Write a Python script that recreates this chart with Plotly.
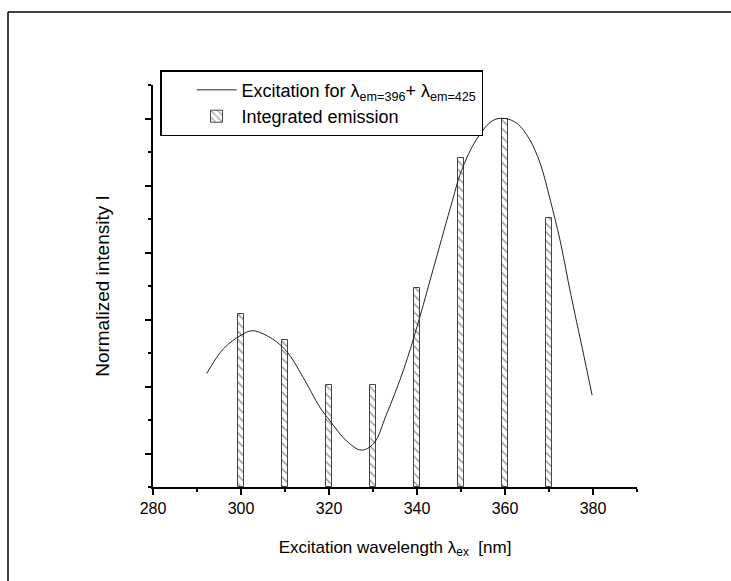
import plotly.graph_objects as go

# Integrated emission at each excitation wavelength (normalized)
bar_wavelengths = [300, 310, 320, 330, 340, 350, 360, 370]
bar_intensity = [0.469, 0.400, 0.276, 0.276, 0.541, 0.894, 1.000, 0.730]

# Excitation spectrum for lambda_em = 396 + 425 nm (normalized)
curve_wavelengths = [292.2, 296.0, 300.0, 302.5, 306.0, 310.2, 314.0, 317.9, 320.2,
                     324.0, 327.4, 330.2, 333.0, 337.0, 340.0, 344.0, 348.0, 350.0,
                     353.6, 357.3, 360.0, 362.8, 365.5, 368.0, 370.3, 372.5, 375.0,
                     377.5, 379.8]
curve_intensity = [0.308, 0.375, 0.412, 0.424, 0.410, 0.371, 0.300, 0.217, 0.180,
                   0.125, 0.100, 0.119, 0.195, 0.320, 0.435, 0.605, 0.775, 0.855,
                   0.945, 0.995, 1.000, 0.986, 0.945, 0.878, 0.778, 0.670, 0.520,
                   0.380, 0.249]

x_tick_values = [280, 300, 320, 340, 360, 380]
x_tick_labels = ["280", "300", "320", "340", "360", "380"]

FONT = "Liberation Sans, Arial, Helvetica, sans-serif"

fig = go.Figure()

fig.add_trace(go.Scatter(
    x=curve_wavelengths, y=curve_intensity,
    mode="lines",
    line=dict(color="#222222", width=1, shape="spline", smoothing=1.0),
    name="Excitation for \u03bb<sub>em=396</sub>+ \u03bb<sub>em=425</sub>",
))

fig.add_trace(go.Bar(
    x=bar_wavelengths, y=bar_intensity,
    width=1.25,
    marker=dict(
        color="white",
        line=dict(color="#444444", width=1),
        pattern=dict(shape="\\", fgcolor="#333333", bgcolor="white",
                     size=6, solidity=0.25),
    ),
    name="Integrated emission",
))

fig.update_layout(
    width=731, height=581,
    margin=dict(l=153, r=94, t=85, b=94),
    paper_bgcolor="white", plot_bgcolor="white",
    font=dict(family=FONT, color="black", size=16),
    showlegend=True,
    legend=dict(
        x=0.0145, y=1.037, xanchor="left", yanchor="top",
        bordercolor="black", borderwidth=1.5, bgcolor="white",
        font=dict(family=FONT, size=18, color="black"),
        traceorder="normal", tracegroupgap=0,
        itemwidth=40, indentation=30,
    ),
    bargap=0,
    xaxis=dict(
        range=[280, 390],
        tickvals=x_tick_values, ticktext=x_tick_labels,
        ticks="outside", ticklen=6, tickwidth=1.5, tickcolor="black",
        minor=dict(dtick=10, tick0=280, ticks="outside", ticklen=3,
                   tickwidth=1.5, tickcolor="black"),
        showline=True, linecolor="black", linewidth=1.5,
        showgrid=False, zeroline=False,
        tickfont=dict(size=16, family=FONT),
        title=dict(text="Excitation wavelength \u03bb<sub>ex</sub>  [nm]",
                   font=dict(size=17, family=FONT), standoff=25),
    ),
    yaxis=dict(
        range=[0, 12 / 11],
        tick0=1 / 11, dtick=2 / 11,
        ticks="outside", ticklen=6, tickwidth=1.5, tickcolor="black",
        minor=dict(dtick=1 / 11, tick0=0, ticks="outside", ticklen=3,
                   tickwidth=1.5, tickcolor="black"),
        showticklabels=False,
        showline=True, linecolor="black", linewidth=1.5,
        showgrid=False, zeroline=False,
        title=dict(text="Normalized intensity I",
                   font=dict(size=19, family=FONT), standoff=31),
    ),
)

# Outer frame around the whole figure
fig.add_shape(type="line", xref="paper", yref="paper",
              x0=(8 - 153) / 484, x1=(760 - 153) / 484,
              y0=(487 - 12) / 402, y1=(487 - 12) / 402,
              line=dict(color="black", width=1.5))
fig.add_shape(type="line", xref="paper", yref="paper",
              x0=(8 - 153) / 484, x1=(8 - 153) / 484,
              y0=(487 - 12) / 402, y1=(487 - 620) / 402,
              line=dict(color="black", width=1.5))

fig.write_html("out.html")
